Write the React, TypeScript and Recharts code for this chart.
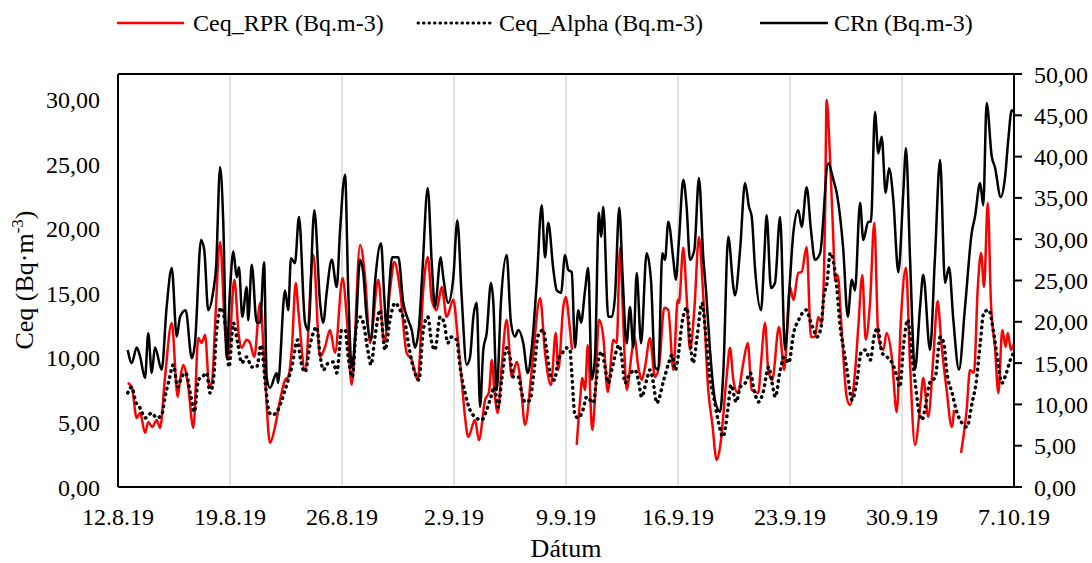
import React from 'react';
import { LineChart, Line, XAxis, YAxis, CartesianGrid, ReferenceLine } from 'recharts';

// x values: days since 12.8.19 00:00
const dateTicks = [0, 7, 14, 21, 28, 35, 42, 49, 56];
const dateLabels = ['12.8.19', '19.8.19', '26.8.19', '2.9.19', '9.9.19', '16.9.19', '23.9.19', '30.9.19', '7.10.19'];
const leftTicks = [0, 5, 10, 15, 20, 25, 30];
const rightTicks = [0, 5, 10, 15, 20, 25, 30, 35, 40, 45, 50];

// CRn (Bq.m-3) – right axis
const rnDays = [0.61,0.86,1.17,1.38,1.69,1.89,2.11,2.31,2.73,3.04,3.36,3.67,3.88,4.23,4.61,4.81,5.19,5.39,5.64,5.96,6.13,6.38,6.58,6.79,7.0,7.21,7.42,7.56,7.77,8.04,8.14,8.36,8.67,8.88,9.13,9.29,9.5,9.92,10.0,10.44,10.64,10.81,11.06,11.31,11.69,11.89,12.27,12.63,12.83,13.04,13.36,13.67,13.88,14.19,14.39,14.61,14.86,15.13,15.33,15.54,15.81,16.06,16.44,16.64,16.79,16.94,17.14,17.52,17.83,18.14,18.36,18.56,18.81,19.02,19.36,19.61,19.81,20.17,20.33,20.64,20.96,21.21,21.48,21.79,22.0,22.21,22.42,22.63,22.83,23.04,23.31,23.46,23.67,23.94,24.29,24.56,24.81,25.02,25.33,25.61,25.86,26.17,26.48,26.69,26.89,27.21,27.42,27.69,27.94,28.14,28.36,28.56,28.77,28.94,29.19,29.39,29.61,29.81,30.06,30.19,30.33,30.64,30.86,31.06,31.33,31.54,31.79,32.0,32.21,32.42,32.69,33.04,33.31,33.56,33.77,34.02,34.19,34.39,34.71,34.86,35.06,35.33,35.54,35.75,36.02,36.31,36.58,36.75,37.0,37.31,37.63,37.83,38.14,38.46,38.56,38.88,39.19,39.44,39.61,39.81,40.19,40.39,40.54,40.81,41.06,41.38,41.69,42.0,42.21,42.52,42.73,43.04,43.31,43.56,43.88,44.39,44.71,44.92,45.33,45.61,45.86,46.06,46.38,46.58,46.89,47.06,47.31,47.52,47.73,47.98,48.19,48.46,48.77,49.08,49.25,49.5,49.81,50.13,50.33,50.75,51.06,51.38,51.69,51.94,52.21,52.56,52.94,53.36,53.56,53.88,54.08,54.29,54.61,54.81,55.17,55.44,55.64,55.86,56.0];
const rnValues = [16.6,15.0,16.9,15.8,13.2,18.6,13.8,16.9,14.2,21.8,26.5,18.2,20.6,21.4,15.6,17.4,29.9,28.7,21.4,23.8,26.6,38.7,32.0,15.7,23.8,28.5,25.4,26.6,20.6,24.2,20.2,26.9,19.9,19.9,27.2,13.3,12.0,13.8,12.6,23.8,21.4,27.7,27.1,32.7,19.9,19.0,33.5,22.3,19.9,23.5,27.5,24.2,31.1,37.8,23.8,14.5,19.0,27.5,25.9,20.6,17.8,24.7,29.5,23.0,19.0,23.8,27.8,27.8,22.3,20.2,19.0,16.9,19.4,25.9,36.2,27.1,21.8,27.8,25.4,22.3,25.4,32.3,23.0,14.8,15.7,20.6,22.3,9.7,16.6,18.6,24.7,22.3,11.7,22.6,28.1,19.9,18.2,19.0,17.4,13.8,16.9,24.7,34.1,27.8,32.0,26.3,23.8,23.5,28.1,26.3,26.0,16.9,21.4,19.9,23.8,26.5,13.0,15.7,33.2,30.3,33.9,20.6,20.6,23.0,33.8,25.4,17.4,21.8,16.9,25.9,17.4,28.3,25.1,14.5,14.2,28.3,27.5,32.1,27.5,25.1,29.9,37.2,33.9,27.5,28.7,37.4,27.8,23.8,16.6,10.5,9.1,13.8,30.3,24.2,23.2,28.7,36.8,33.9,32.7,26.6,21.4,27.8,32.9,24.1,24.7,32.7,16.6,25.1,30.8,33.5,31.5,36.3,31.1,27.5,28.3,39.2,37.2,35.6,28.7,20.6,25.1,23.8,34.4,29.9,32.1,32.1,45.4,40.4,42.4,35.6,38.6,34.7,26.0,35.6,41.0,27.8,14.2,21.8,25.7,16.6,27.8,39.6,24.7,26.6,20.2,14.2,21.8,30.8,32.7,36.8,34.1,46.5,40.0,38.7,35.1,37.5,42.0,45.6,45.4];

// Ceq_RPR (Bq.m-3) – left axis
const rprDays = [0.61,0.86,1.17,1.38,1.69,1.89,2.14,2.42,2.63,2.94,3.36,3.73,3.88,4.08,4.36,4.71,5.02,5.23,5.44,5.71,5.89,6.06,6.38,6.69,6.89,7.27,7.56,7.73,8.04,8.25,8.52,8.88,9.19,9.5,9.81,10.13,10.44,10.64,10.86,11.11,11.27,11.69,12.21,12.63,12.94,13.25,13.56,14.04,14.31,14.61,15.13,15.44,15.75,16.27,16.64,17.0,17.27,17.63,18.04,18.36,18.73,19.08,19.36,19.61,19.92,20.23,20.54,20.96,21.23,21.48,21.69,21.89,22.31,22.56,22.94,23.19,23.36,23.52,23.73,23.98,24.29,24.61,24.92,25.13,25.44,25.86,26.38,26.69,27.06,27.36,27.52,27.83,27.98,28.25,28.38,28.5,28.67,28.88,29.02,29.19,29.36,29.64,29.81,30.06,30.33,30.61,30.96,31.17,31.38,31.58,31.79,32.11,32.27,32.52,32.73,32.94,33.25,33.56,33.81,34.14,34.39,34.71,34.98,35.06,35.33,35.54,35.75,36.02,36.31,36.58,36.89,37.14,37.42,37.63,38.04,38.25,38.46,38.73,39.08,39.36,39.61,40.02,40.19,40.44,40.64,40.89,41.31,41.64,42.0,42.21,42.52,42.73,43.04,43.31,43.56,43.77,43.98,44.19,44.29,44.5,44.71,44.81,44.98,45.23,45.54,45.75,46.06,46.27,46.52,46.73,47.0,47.27,47.52,47.83,48.04,48.36,48.67,48.94,49.25,49.5,49.81,50.13,50.33,50.64,50.96,51.23,51.44,51.79,52.11,52.25,52.5,52.69,53.04,53.25,53.5,53.73,53.94,54.13,54.36,54.56,54.81,55.02,55.27,55.48,55.61,55.81,56.0];
const rprValues = [8.06,7.75,5.35,5.74,4.19,5.04,4.65,5.19,4.57,8.53,12.7,6.98,8.29,9.46,8.06,4.57,11.55,11.16,11.78,7.75,8.29,12.33,18.99,12.17,10.08,16.05,11.63,10.78,11.4,11.16,10.08,14.26,8.53,3.41,4.65,6.74,8.29,8.53,10.62,15.81,13.72,9.07,17.98,10.08,10.85,12.17,10.39,16.2,12.95,7.91,18.76,16.28,11.16,16.05,11.16,15.27,17.44,15.27,10.39,9.84,8.29,15.27,17.83,14.5,13.72,15.5,13.18,14.5,11.63,8.29,5.43,3.88,5.19,3.64,6.74,7.36,9.84,7.52,5.74,9.3,12.95,8.53,9.69,8.53,4.81,9.07,14.65,10.39,7.91,11.94,9.07,13.95,14.73,12.17,10.62,null,3.26,6.74,8.45,7.52,11.0,4.42,6.74,12.95,11.63,7.36,11.4,11.16,18.53,12.71,7.52,10.39,11.63,9.3,8.29,9.3,11.55,8.53,9.3,13.88,13.72,9.07,14.5,14.26,18.53,14.73,10.62,13.72,19.38,14.73,7.52,4.96,2.09,3.1,8.53,10.78,8.29,7.29,9.61,11.16,7.52,7.29,9.61,12.71,9.07,8.29,12.4,9.07,15.5,14.5,16.59,16.67,18.6,11.63,11.63,13.18,12.71,20.93,30.0,25.58,19.15,16.05,16.43,12.17,6.98,6.36,8.84,12.4,16.43,11.4,14.26,20.47,11.63,10.62,11.94,10.08,5.81,13.18,16.98,9.61,3.26,6.2,8.45,5.43,10.08,14.42,11.4,7.52,4.65,5.97,null,2.64,5.97,9.07,8.84,15.27,18.14,15.5,22.02,14.26,10.85,7.29,12.17,10.85,11.94,10.62,11.16];

// Ceq_Alpha (Bq.m-3) – left axis
const alphaDays = [0.61,0.86,1.11,1.38,1.69,2.11,2.42,2.73,2.94,3.19,3.46,3.73,3.98,4.23,4.56,4.77,5.02,5.27,5.54,5.75,5.96,6.17,6.44,6.69,6.94,7.21,7.48,7.73,8.04,8.36,8.67,8.94,9.23,9.44,9.63,9.92,10.44,10.86,11.23,11.38,11.69,12.0,12.42,12.63,12.83,13.14,13.44,13.67,13.98,14.19,14.39,14.64,14.92,15.13,15.33,15.64,15.81,16.06,16.38,16.69,17.0,17.31,17.63,17.94,18.25,18.56,18.81,19.08,19.36,19.61,19.81,20.13,20.39,20.61,20.86,21.17,21.38,21.69,22.0,22.31,22.73,23.04,23.31,23.52,23.77,23.98,24.29,24.5,24.71,25.02,25.23,25.44,25.75,25.96,26.27,26.58,26.79,27.06,27.27,27.52,27.77,28.04,28.25,28.36,28.56,28.77,29.06,29.29,29.5,29.71,29.88,30.06,30.23,30.44,30.64,30.86,31.11,31.31,31.48,31.69,31.89,32.11,32.31,32.52,32.73,33.04,33.25,33.46,33.67,34.11,34.42,34.63,34.83,35.04,35.25,35.56,35.77,35.94,36.19,36.5,36.71,36.98,37.23,37.54,37.81,38.11,38.31,38.64,38.89,39.21,39.52,39.75,40.04,40.31,40.67,40.88,41.08,41.36,41.64,41.92,42.23,42.54,43.02,43.25,43.48,43.69,43.94,44.11,44.31,44.52,44.73,44.94,45.14,45.36,45.56,45.88,46.19,46.44,46.71,47.02,47.25,47.48,47.75,48.06,48.38,48.69,48.86,49.11,49.36,49.63,49.83,50.04,50.25,50.46,50.73,51.08,51.39,51.61,51.81,52.13,52.44,52.75,53.06,53.38,53.63,53.89,54.11,54.42,54.73,54.98,55.25,55.52,55.77,55.97];
const alphaValues = [7.29,7.75,6.59,6.12,5.35,5.74,5.35,5.58,6.98,8.29,9.46,7.75,8.53,8.84,6.98,5.81,8.29,8.53,8.84,7.29,8.29,12.17,13.88,12.71,9.3,12.71,11.16,9.61,10.08,9.3,9.3,11.0,7.75,5.81,5.58,5.81,7.52,9.3,11.4,10.08,8.91,11.0,12.4,10.23,9.07,9.61,9.69,8.84,12.17,12.17,10.08,8.53,12.71,13.18,12.71,10.39,9.46,11.63,13.72,10.62,12.95,14.26,13.72,12.71,10.39,8.84,8.29,12.17,13.18,11.16,10.62,13.18,12.71,11.16,11.63,11.4,9.3,7.29,5.97,5.43,5.19,5.97,6.98,7.75,6.2,8.29,10.78,10.08,8.53,8.53,7.29,6.59,6.74,8.53,11.78,12.17,10.62,8.53,8.29,9.84,10.39,10.78,10.62,8.84,5.58,5.35,5.97,6.98,6.74,6.51,8.06,10.08,10.47,9.3,8.06,9.07,10.39,11.0,10.08,8.06,8.53,8.91,9.07,8.29,6.98,8.29,9.07,8.06,6.51,8.29,9.61,10.23,9.07,10.39,12.71,13.88,11.16,9.61,11.63,14.26,12.17,8.53,6.98,4.96,3.88,5.97,7.91,6.59,7.75,8.06,8.84,7.52,6.59,7.29,9.3,8.06,6.98,8.84,10.08,9.61,11.94,12.95,13.72,12.95,12.17,11.63,12.4,14.73,15.81,18.14,17.36,15.27,12.4,10.62,9.07,6.74,8.29,10.39,10.62,9.84,11.63,12.33,10.39,10.08,9.61,8.53,7.75,11.16,12.95,10.08,8.06,5.97,5.19,6.2,8.06,8.53,11.63,11.16,8.84,7.29,5.74,4.96,4.65,6.51,8.06,11.16,13.49,13.72,11.94,9.84,8.06,8.84,9.84,10.39];

const build = (days: number[], vals: (number | null)[]) => days.map((d, i) => ({ d, v: vals[i] }));
const rnData = build(rnDays, rnValues);
const rprData = build(rprDays, rprValues);
const alphaData = build(alphaDays, alphaValues);

const FONT = "'Liberation Serif', 'Times New Roman', serif";
const fmt = (v: number) => v.toFixed(2).replace('.', ',');
const tickStyle = { fill: '#000', fontSize: 24, fontFamily: FONT };

export default function App() {
  return (
    <div style={{ position: 'absolute', left: 0, top: 0, width: 1092, height: 563, background: '#fff' }}>
      <LineChart width={1092} height={563} margin={{ top: 74, right: 0, bottom: 0, left: 0 }}>
        <CartesianGrid vertical horizontal={false} stroke="#d9d9d9" strokeWidth={1.5} />
        <XAxis
          dataKey="d"
          type="number"
          domain={[0, 56]}
          ticks={dateTicks}
          interval={0}
          tickFormatter={(v: number) => dateLabels[dateTicks.indexOf(v)]}
          axisLine={{ stroke: '#000', strokeWidth: 2 }}
          tickLine={false}
          tickSize={0}
          tickMargin={21}
          height={76}
          tick={tickStyle}
          allowDataOverflow
        />
        <YAxis
          yAxisId="left"
          domain={[0, 32]}
          ticks={leftTicks}
          interval={0}
          tickFormatter={fmt}
          axisLine={{ stroke: '#000', strokeWidth: 2 }}
          tickLine={false}
          tickSize={0}
          tickMargin={18}
          width={118}
          tick={tickStyle}
          allowDataOverflow
        />
        <YAxis
          yAxisId="right"
          orientation="right"
          domain={[0, 50]}
          ticks={rightTicks}
          interval={0}
          tickFormatter={fmt}
          axisLine={{ stroke: '#000', strokeWidth: 2 }}
          tickLine={{ stroke: '#000', strokeWidth: 2 }}
          tickSize={8}
          tickMargin={12}
          width={78}
          tick={tickStyle}
          allowDataOverflow
        />
        <ReferenceLine yAxisId="right" y={50} stroke="#000" strokeWidth={2} />
        <Line
          yAxisId="left"
          data={rprData}
          dataKey="v"
          type="monotone"
          stroke="#ff0000"
          strokeWidth={2.5}
          dot={false}
          isAnimationActive={false}
          connectNulls={false}
        />
        <Line
          yAxisId="left"
          data={alphaData}
          dataKey="v"
          type="monotone"
          stroke="#000"
          strokeWidth={3.5}
          strokeDasharray="0.5 5.5"
          strokeLinecap="round"
          dot={false}
          isAnimationActive={false}
        />
        <Line
          yAxisId="right"
          data={rnData}
          dataKey="v"
          type="monotone"
          stroke="#000"
          strokeWidth={2.5}
          dot={false}
          isAnimationActive={false}
        />
      </LineChart>
      <svg
        width={1092}
        height={563}
        style={{ position: 'absolute', left: 0, top: 0, pointerEvents: 'none' }}
        fontFamily={FONT}
      >
        <line x1={117} x2={184} y1={23} y2={23} stroke="#ff0000" strokeWidth={2.5} />
        <text x={193} y={31} fontSize={24} fill="#000">Ceq_RPR (Bq.m-3)</text>
        <line x1={418} x2={492} y1={23} y2={23} stroke="#000" strokeWidth={3} strokeDasharray="0.5 5" strokeLinecap="round" />
        <text x={499} y={31} fontSize={24} fill="#000">Ceq_Alpha (Bq.m-3)</text>
        <line x1={760} x2={828} y1={23} y2={23} stroke="#000" strokeWidth={2.5} />
        <text x={834} y={31} fontSize={24} fill="#000">CRn (Bq.m-3)</text>
        <text x={33} y={280} transform="rotate(-90 33 280)" textAnchor="middle" fontSize={26} fill="#000">
          Ceq (Bq·m<tspan fontSize={17} dy={-10}>-3</tspan><tspan dy={10}>)</tspan>
        </text>
        <text x={566} y={557} textAnchor="middle" fontSize={26} fill="#000">Dátum</text>
      </svg>
    </div>
  );
}
